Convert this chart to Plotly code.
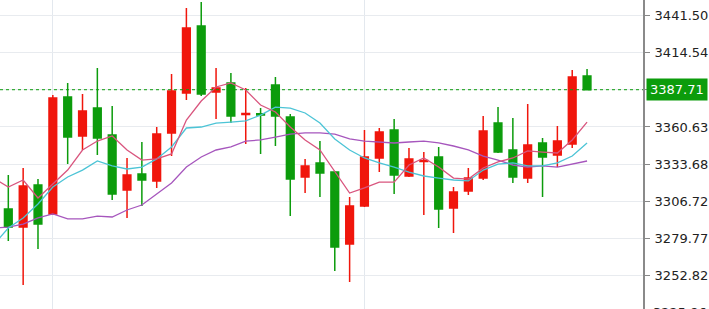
import plotly.graph_objects as go

# ---- data ----
idx = list(range(40))
opens  = [3301.0, 3287.9, 3318.5, 3297.4, 3382.4, 3354.1, 3374.4, 3354.8, 3314.8, 3326.5,
          3321.4, 3356.3, 3385.3, 3434.0, 3386.0, 3392.6, 3369.7, 3370.2, 3391.1, 3367.9,
          3324.3, 3334.5, 3327.9, 3275.6, 3303.2, 3338.1, 3358.4, 3325.0, 3335.5, 3338.8,
          3301.8, 3314.1, 3323.5, 3363.5, 3343.9, 3323.5, 3349.0, 3340.3, 3348.3, 3397.7]
highs  = [3325.7, 3330.8, 3322.8, 3383.9, 3392.6, 3384.6, 3403.5, 3375.9, 3338.1, 3349.7,
          3360.6, 3399.1, 3447.1, 3451.4, 3403.5, 3399.9, 3389.0, 3374.4, 3396.9, 3370.1,
          3337.4, 3350.4, 3328.6, 3309.7, 3358.4, 3359.9, 3366.4, 3345.3, 3342.4, 3346.1,
          3317.0, 3330.8, 3368.6, 3375.1, 3367.1, 3377.3, 3352.6, 3361.3, 3402.0, 3402.8]
lows   = [3277.8, 3245.8, 3272.0, 3297.4, 3333.7, 3343.9, 3340.3, 3307.6, 3294.5, 3303.2,
          3316.3, 3339.5, 3380.2, 3383.1, 3366.4, 3363.5, 3348.3, 3341.0, 3346.8, 3295.9,
          3312.7, 3309.7, 3256.0, 3248.0, 3302.5, 3327.9, 3311.9, 3324.3, 3296.7, 3287.2,
          3283.6, 3311.2, 3322.1, 3341.7, 3319.9, 3319.9, 3309.7, 3331.5, 3345.3, 3387.71]
closes = [3287.9, 3317.7, 3290.1, 3381.7, 3353.3, 3372.2, 3352.6, 3311.9, 3325.7, 3322.1,
          3355.5, 3386.8, 3432.6, 3384.6, 3389.0, 3368.6, 3370.4, 3369.4, 3368.6, 3322.8,
          3332.3, 3327.2, 3273.4, 3303.2, 3338.8, 3357.0, 3325.7, 3337.4, 3336.3, 3301.0,
          3313.4, 3323.5, 3357.7, 3342.4, 3324.3, 3347.5, 3338.8, 3350.4, 3396.9, 3387.71]

ma_idx = list(range(-1, 40))
ma5  = [3323.5, 3317.0, 3322.1, 3309.0, 3319.2, 3329.3, 3343.9, 3350.4, 3354.1, 3343.9, 3336.6,
        3337.4, 3341.0, 3365.7, 3379.5, 3389.7, 3392.6, 3387.5, 3376.6, 3371.5, 3360.6,
        3351.2, 3343.9, 3328.6, 3312.6, 3316.3, 3320.6, 3320.6, 3333.0, 3338.1, 3331.5,
        3323.5, 3322.8, 3330.8, 3335.2, 3338.1, 3343.2, 3342.4, 3341.7, 3351.2, 3364.2]
ma10 = [3274.9, 3287.2, 3294.5, 3304.7, 3317.0, 3324.3, 3329.3, 3335.9, 3332.3, 3330.1, 3331.5,
        3337.4, 3346.1, 3359.9, 3360.6, 3363.5, 3364.2, 3365.0, 3369.3, 3375.1, 3374.4,
        3370.8, 3363.5, 3351.9, 3343.9, 3338.1, 3334.5, 3331.5, 3327.9, 3325.0, 3323.5,
        3322.1, 3321.4, 3329.3, 3333.7, 3334.5, 3332.3, 3332.3, 3334.5, 3339.5, 3349.0]
ma20 = [3287.2, 3287.9, 3290.1, 3294.5, 3297.4, 3293.8, 3293.8, 3295.9, 3295.2, 3300.3, 3303.9,
        3311.9, 3319.9, 3331.5, 3338.8, 3343.9, 3346.1, 3350.4, 3351.2, 3353.3, 3355.5,
        3356.3, 3356.3, 3355.5, 3351.9, 3350.4, 3349.7, 3349.0, 3349.7, 3350.4, 3349.0,
        3346.8, 3343.9, 3339.5, 3336.6, 3333.0, 3331.5, 3332.3, 3331.5, 3333.7, 3335.9]

tick_vals = [3441.50, 3414.54, 3387.71, 3360.63, 3333.68, 3306.72, 3279.77, 3252.82]
tick_text = ["3441.50", "3414.54", "", "3360.63", "3333.68", "3306.72", "3279.77", "3252.82"]
cut_tick = 3225.86
last_price = 3387.71
separator_idx = [3, 24]

RED = "#f0160c"
GREEN = "#0c9c0c"
y_min, y_max = 3228.35, 3452.9
x_min, x_max = -0.56, 42.77

fig = go.Figure()
fig.add_trace(go.Candlestick(
    x=idx, open=opens, high=highs, low=lows, close=closes,
    increasing=dict(line=dict(color=RED, width=1.5), fillcolor=RED),
    decreasing=dict(line=dict(color=GREEN, width=1.5), fillcolor=GREEN),
    whiskerwidth=0, showlegend=False, hoverinfo="skip"))
fig.add_trace(go.Scatter(x=ma_idx, y=ma20, mode="lines",
                         line=dict(color="#a656bd", width=1.3), showlegend=False, hoverinfo="skip"))
fig.add_trace(go.Scatter(x=ma_idx, y=ma10, mode="lines",
                         line=dict(color="#4cc4d6", width=1.3), showlegend=False, hoverinfo="skip"))
fig.add_trace(go.Scatter(x=ma_idx, y=ma5, mode="lines",
                         line=dict(color="#d9557e", width=1.3), showlegend=False, hoverinfo="skip"))

# current price dotted line
fig.add_shape(type="line", xref="paper", x0=0, x1=1, yref="y", y0=last_price, y1=last_price,
              line=dict(color=GREEN, width=1, dash="dot"), layer="above")
# price label
fig.add_annotation(xref="paper", x=1, yref="y", y=last_price, xanchor="left", yanchor="middle",
                   xshift=3, text="3387.71", showarrow=False, bgcolor=GREEN, borderpad=3,
                   font=dict(family="DejaVu Sans", size=13, color="white"))
# partially visible bottom label
fig.add_annotation(xref="paper", x=1, yref="paper", y=(cut_tick - y_min) / (y_max - y_min),
                   xanchor="left", yanchor="middle", xshift=8, text="3225.86", showarrow=False,
                   font=dict(family="DejaVu Sans", size=13, color="#222222"))

fig.update_layout(
    width=709, height=309,
    margin=dict(l=0, r=66, t=0, b=0),
    paper_bgcolor="white", plot_bgcolor="white",
    boxgap=0.26,
    xaxis=dict(range=[x_min, x_max], rangeslider=dict(visible=False),
               tickvals=separator_idx, showticklabels=False, ticks="",
               showgrid=True, gridcolor="#e3e8ee", gridwidth=1, zeroline=False,
               showline=False, fixedrange=True),
    yaxis=dict(range=[y_min, y_max], side="right", tickvals=tick_vals, ticktext=tick_text,
               ticks="outside", ticklen=5, tickcolor="#888888", ticklabelstandoff=2,
               showgrid=True, gridcolor="#e8ebef", gridwidth=1, zeroline=False,
               showline=True, linecolor="#8a8a8a", linewidth=2,
               tickfont=dict(family="DejaVu Sans", size=13, color="#222222"), fixedrange=True),
)

fig.write_html("out.html")
